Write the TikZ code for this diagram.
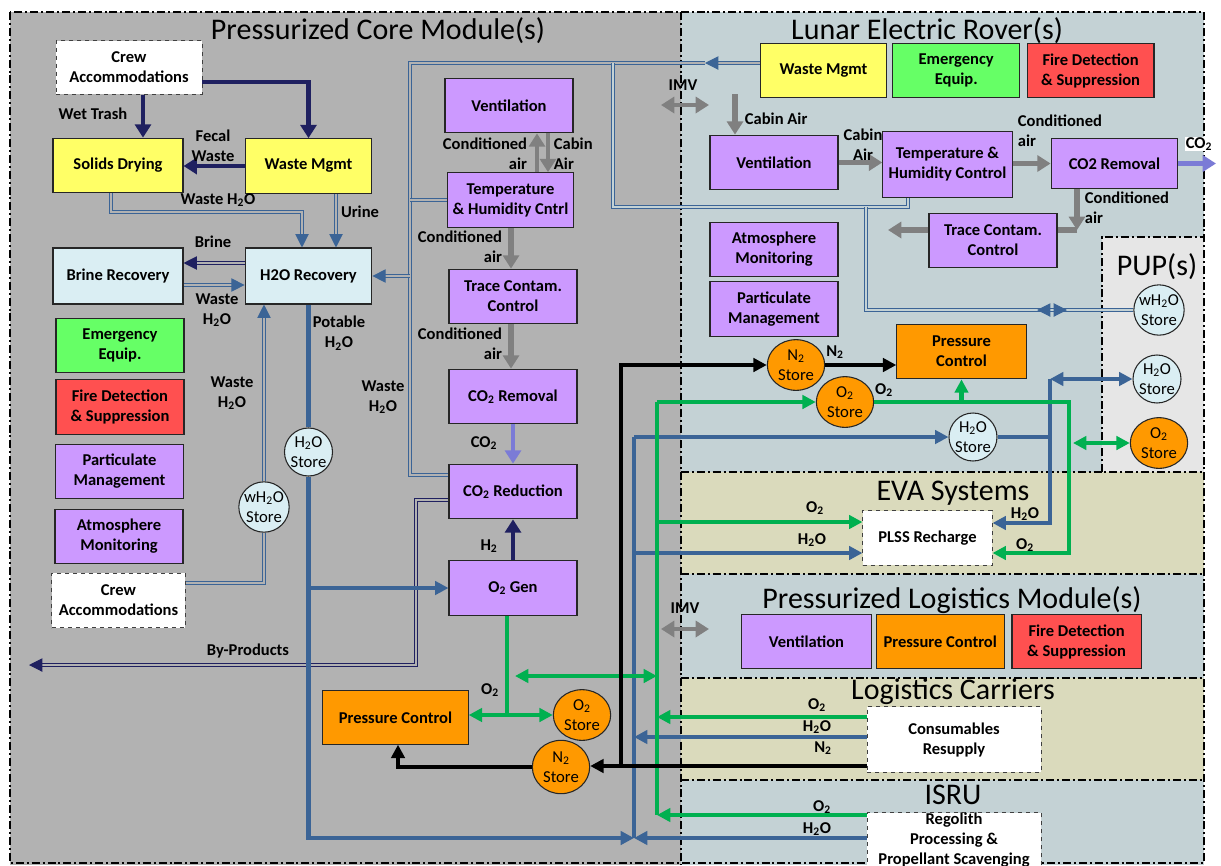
\documentclass[tikz,border=0pt]{standalone}
\usepackage{fontspec}
\setmainfont{Carlito}
\usetikzlibrary{arrows.meta,positioning,shapes.geometric}

\definecolor{coreGray}{RGB}{178,178,178}
\definecolor{roverBlue}{RGB}{196,210,213}
\definecolor{pupGray}{RGB}{230,230,230}
\definecolor{evaKhaki}{RGB}{218,218,188}
\definecolor{boxPurple}{RGB}{204,153,255}
\definecolor{boxYellow}{RGB}{255,255,102}
\definecolor{boxGreen}{RGB}{102,255,102}
\definecolor{boxRed}{RGB}{255,80,80}
\definecolor{boxOrange}{RGB}{255,153,0}
\definecolor{boxCyan}{RGB}{218,238,243}
\definecolor{waterBlue}{RGB}{59,100,150}
\definecolor{wasteNavy}{RGB}{31,32,96}
\definecolor{oxyGreen}{RGB}{0,176,80}
\definecolor{airGray}{RGB}{128,128,128}
\definecolor{cotwoBlue}{RGB}{123,123,214}

\newcommand{\HtwoO}{H\textsubscript{2}O}
\newcommand{\COtwo}{CO\textsubscript{2}}
\newcommand{\Otwo}{O\textsubscript{2}}
\newcommand{\Ntwo}{N\textsubscript{2}}
\newcommand{\Htwo}{H\textsubscript{2}}
\newcommand{\unitfont}{\fontsize{12.4}{15}\selectfont\bfseries}
\newcommand{\storefont}{\fontsize{12.5}{15}\selectfont}
\newcommand{\zonefont}{\fontsize{22.5}{26}\selectfont}

\tikzset{
    raw unit/.style={rectangle, draw=black!85, line width=0.8pt, font=\unitfont, align=center, inner sep=1pt, minimum width=96pt, minimum height=41pt},
    unit purple/.style={raw unit, fill=boxPurple},
    unit yellow/.style={raw unit, fill=boxYellow},
    unit green/.style={raw unit, fill=boxGreen},
    unit red/.style={raw unit, fill=boxRed},
    unit orange/.style={raw unit, fill=boxOrange},
    unit cyan/.style={raw unit, fill=boxCyan},
    unit ext/.style={raw unit, fill=white, draw=black!75, dashed, line width=0.6pt},
    store/.style={circle, draw=black!85, line width=0.8pt, fill=boxCyan, font=\storefont, align=center, inner sep=0pt, minimum size=36pt},
    store orange/.style={ellipse, draw=black!85, line width=0.8pt, fill=boxOrange, font=\storefont, align=center, inner sep=0pt, minimum width=43pt, minimum height=38pt},
    zone/.style={font=\zonefont, inner sep=0pt},
    zone edge/.style={draw=black, line width=1.3pt, dash pattern=on 6pt off 2.2pt on 1.5pt off 2.2pt},
    lbl/.style={font=\unitfont, inner sep=0.5pt, align=center}
}

\begin{document}
\begin{tikzpicture}[x=0.75pt, y=-0.75pt,
    >={Triangle[length=10pt,width=10pt]},
    waste flow/.style={draw=wasteNavy, line width=3.5pt, >={Triangle[length=10pt,width=12pt]}},
    water flow/.style={draw=waterBlue, line width=3.2pt},
    o2 flow/.style={draw=oxyGreen, line width=3.2pt},
    n2 flow/.style={draw=black, line width=2.8pt},
    co2 flow/.style={draw=cotwoBlue, line width=3.5pt, >={Triangle[length=10pt,width=12pt]}},
    air flow/.style={draw=airGray, line width=4pt, >={Triangle[length=10pt,width=12pt]}},
    water pipe/.style={draw=waterBlue, line width=0.8pt, double=coreGray, double distance=1.2pt},
    brine pipe/.style={water pipe, draw=wasteNavy}]

\useasboundingbox (0,0) rectangle (1221,865);
\fill[white] (0,0) rectangle (1221,865);

% zones
\fill[coreGray] (10,12) rectangle (681,865);
\fill[roverBlue] (681,12) rectangle (1204,472);
\fill[pupGray] (1102,237) rectangle (1204,472);
\fill[evaKhaki] (681,472) rectangle (1204,574);
\fill[roverBlue] (681,574) rectangle (1204,678);
\fill[evaKhaki] (681,678) rectangle (1204,780);
\fill[roverBlue] (681,780) rectangle (1204,865);
\draw[zone edge] (10,12) rectangle (1204,863);
\draw[zone edge] (681,12) -- (681,865);
\draw[zone edge] (1102,472) -- (1102,237) -- (1204,237);
\foreach \zy in {472,574,678,780}
    \draw[zone edge] (681,\zy) -- (1204,\zy);

\node[zone] (tCore) at (378,31) {Pressurized Core Module(s)};
\node[zone] (tRover) at (927,31) {Lunar Electric Rover(s)};
\node[zone] (tPup) at (1157,267) {PUP(s)};
\node[zone] (tEva) at (953,493) {EVA Systems};
\node[zone] (tPlm) at (952,600) {Pressurized Logistics Module(s)};
\node[zone] (tCarrier) at (953,692) {Logistics Carriers};
\node[zone] (tIsru) at (953,795) {ISRU};

% core module
\node[unit ext, minimum width=109.5pt, minimum height=40pt] (crewTop) at (129,67.5) {Crew\\Accommodations};
\node[unit yellow, minimum width=97.5pt] (solids) at (118,165.5) {Solids Drying};
\node[unit yellow, minimum width=95pt] (wasteCore) at (308.5,166) {Waste Mgmt};
\node[unit cyan, minimum width=97.5pt, minimum height=42pt] (brine) at (118,276) {Brine Recovery};
\node[unit cyan, minimum width=95pt, minimum height=42pt] (h2oRec) at (308.5,276) {H2O Recovery};
\node[unit green] (emerCore) at (120,345.5) {Emergency\\Equip.};
\node[unit red, below=4.5pt of emerCore] (fireCore) {Fire Detection\\\& Suppression};
\node[unit purple] (partCore) at (119.5,471.5) {Particulate\\Management};
\node[unit purple] (atmoCore) at (119,536.5) {Atmosphere\\Monitoring};
\node[unit ext, minimum width=100pt] (crewBot) at (118.5,600.5) {Crew\\Accommodations};
\node[store] (wstoreCore) at (264,507) {w\HtwoO\\Store};
\node[store] (hstoreCore) at (308.5,452) {\HtwoO\\Store};
\node[unit purple] (ventCore) at (509,105.5) {Ventilation};
\node[unit purple, minimum width=95pt] (thCore) at (510.5,200) {Temperature\\\& Humidity Cntrl};
\node[unit purple] (traceCore) at (513,296.5) {Trace Contam.\\Control};
\node[unit purple] (co2remCore) at (513,396.5) {\COtwo{} Removal};
\node[unit purple] (co2red) at (513,491.5) {\COtwo{} Reduction};
\node[unit purple] (o2gen) at (513,588) {\Otwo{} Gen};
\node[unit orange, minimum width=109pt, minimum height=40pt] (pcCore) at (395.5,717.5) {Pressure Control};
\node[store orange] (o2storeCore) at (582,715) {\Otwo\\Store};
\node[store orange, minimum height=40pt] (n2storeCore) at (561,767) {\Ntwo\\Store};

% rover, PUP and outside elements
\node[unit yellow, minimum width=95pt] (wasteRover) at (823.5,70.5) {Waste Mgmt};
\node[unit green, minimum width=95pt, right=3.75pt of wasteRover] (emerRover) {Emergency\\Equip.};
\node[unit red, minimum width=95pt, right=5pt of emerRover] (fireRover) {Fire Detection\\\& Suppression};
\node[unit purple] (ventRover) at (774,162.5) {Ventilation};
\node[unit purple, minimum width=97pt, minimum height=49pt] (thRover) at (947.5,164.5) {Temperature \&\\Humidity Control};
\node[unit purple, minimum width=95pt, minimum height=38pt] (co2remRover) at (1114.5,163.5) {CO2 Removal};
\node[unit purple] (traceRover) at (993,240.5) {Trace Contam.\\Control};
\node[unit purple] (atmoRover) at (774,249.5) {Atmosphere\\Monitoring};
\node[unit purple, below=3pt of atmoRover] (partRover) {Particulate\\Management};
\node[store orange] (n2storeRover) at (796,365) {\Ntwo\\Store};
\node[store orange] (o2storeRover) at (845,402) {\Otwo\\Store};
\node[unit orange, minimum width=97pt] (pcRover) at (961.5,351.5) {Pressure\\Control};
\node[store] (hstoreRover) at (973,437) {\HtwoO\\Store};
\node[store] (wstorePup) at (1159,310) {w\HtwoO\\Store};
\node[store] (hstorePup) at (1157,379) {\HtwoO\\Store};
\node[store orange] (o2storePup) at (1159,443) {\Otwo\\Store};
\node[unit ext, minimum width=97pt] (plss) at (927.5,538) {PLSS Recharge};
\node[unit purple, minimum width=97pt] (ventPlm) at (806.5,641.5) {Ventilation};
\node[unit orange, right=3pt of ventPlm] (pcPlm) {Pressure Control};
\node[unit red, minimum width=97pt, right=5pt of pcPlm] (firePlm) {Fire Detection\\\& Suppression};
\node[unit ext, minimum width=130.5pt, minimum height=49pt] (consum) at (954,739.5) {Consumables\\Resupply};
\node[unit ext, minimum width=130.5pt, inner sep=0pt] (regolith) at (954,840) {Regolith\\Processing \&\\Propellant Scavenging};

% run positions
\coordinate (wetX) at (143,0);
\coordinate (crewY) at (0,82);
\coordinate (sdX) at (111,0);
\coordinate (sdY) at (0,212);
\coordinate (sdX2) at (302,0);
\coordinate (urX) at (336,0);
\coordinate (brY) at (0,263);
\coordinate (bwY) at (0,285);
\coordinate (cwY) at (0,583);
\coordinate (topY) at (0,63);
\coordinate (wbX) at (410,0);
\coordinate (crY) at (0,475);
\coordinate (thX) at (613,0);
\coordinate (thY) at (0,207);
\coordinate (thRX) at (908,0);
\coordinate (pupX) at (866,0);
\coordinate (bpX) at (416,0);
\coordinate (bpY) at (0,500);
\coordinate (bpY2) at (0,665);
\coordinate (byOut) at (29,665);
\coordinate (lerTip) at (705,63);
\coordinate (pupMidL) at (1050,310);
\coordinate (pupMidR) at (1054,310);
\coordinate (caX1) at (537,0);
\coordinate (caX2) at (548,0);
\coordinate (caX3) at (511,0);
\coordinate (gX) at (507,0);
\coordinate (gLeft) at (515,676);
\coordinate (gBusX) at (657,0);
\coordinate (bX) at (634,0);
\coordinate (kX) at (621,0);
\coordinate (pcX) at (398,0);
\coordinate (botY) at (0,838);
\coordinate (regY) at (0,815);
\coordinate (plssOY) at (0,522);
\coordinate (plssHY) at (0,553);
\coordinate (consOY) at (0,717);
\coordinate (consHY) at (0,737);
\coordinate (consNY) at (0,766);
\coordinate (gX2) at (1069,0);
\coordinate (gPup) at (1073,443);
\coordinate (bX2) at (1050,0);
\coordinate (bPup) at (1050,379);
\coordinate (plssRY) at (0,523);
\coordinate (plssRY2) at (0,553);
\coordinate (cabinIn) at (735,94);
\coordinate (ctX) at (1077,0);
\coordinate (traceY) at (0,230);
\coordinate (traceOut) at (888,230);
\coordinate (co2Out) at (1216,163.5);
\coordinate (imvL) at (661,105);
\coordinate (imvR) at (709,105);
\coordinate (imvL2) at (661,629);
\coordinate (imvR2) at (709,629);

% solid waste and water recovery
\draw[waste flow, ->] (crewTop.south -| wetX) -- (solids.north -| wetX);
\draw[waste flow, ->] (crewTop.east |- crewY) -| (wasteCore.north);
\draw[waste flow, ->] (wasteCore.west) -- (solids.east |- wasteCore.west);
\draw[water pipe, ->] (solids.south -| sdX) |- (sdX2 |- sdY) -- (h2oRec.north -| sdX2);
\draw[water pipe, ->] (wasteCore.south -| urX) -- (h2oRec.north -| urX);
\draw[brine pipe, ->] (h2oRec.west |- brY) -- (brine.east |- brY);
\draw[water pipe, ->] (brine.east |- bwY) -- (h2oRec.west |- bwY);
\draw[water pipe, ->] (wstoreCore.north) -- (h2oRec.south -| wstoreCore.north);
\draw[water pipe] (crewBot.east |- cwY) -| (wstoreCore.south);
\draw[water pipe, ->] (wasteRover.west |- topY) -- (lerTip);
\draw[water pipe] (lerTip) -- (wbX |- topY) -- (wbX |- crY) -- (co2red.west |- crY);
\draw[water pipe, ->] (wbX |- h2oRec.east) -- (h2oRec.east);
\draw[water pipe] (thCore.west) -- (wbX |- thCore.west);
\draw[water pipe, double=roverBlue] (thX |- topY) -- (thX |- thY) -- (thRX |- thY) -- (thRover.south -| thRX);
\draw[water pipe, double=roverBlue] (pupX |- thY) -- (pupX |- wstorePup.west) -- (wstorePup.west);
\draw[water pipe, double=roverBlue, ->] (pupMidL) -- ++(-13,0);
\draw[water pipe, double=roverBlue, ->] (pupMidR) -- ++(13,0);
\draw[brine pipe, ->] (co2red.west |- bpY) -| (bpX |- bpY2) -- (byOut);

% air loop
\draw[air flow, line width=3pt, ->] (thCore.north -| caX1) -- (ventCore.south -| caX1);
\draw[air flow, line width=3pt, ->] (ventCore.south -| caX2) -- (thCore.north -| caX2);
\draw[air flow, ->] (thCore.south -| caX3) -- (traceCore.north -| caX3);
\draw[air flow, ->] (traceCore.south -| caX3) -- (co2remCore.north -| caX3);
\draw[co2 flow, ->] (co2remCore.south) -- (co2red.north);
\draw[waste flow, ->] (o2gen.north) -- (co2red.south);
\draw[air flow, ->] (cabinIn) -- (ventRover.north -| cabinIn);
\draw[air flow, ->] (ventRover.east) -- (thRover.west |- ventRover.east);
\draw[air flow, ->] (thRover.east |- co2remRover.west) -- (co2remRover.west);
\draw[air flow, ->] (co2remRover.south -| ctX) -- (ctX |- traceY);
\draw[air flow] (ctX |- traceY) -- (traceRover.east |- traceY);
\draw[air flow, ->] (traceRover.west |- traceY) -- (traceOut);
\draw[co2 flow, ->] (co2remRover.east) -- (co2Out);
\draw[air flow, line width=3pt, <->] (imvL) -- (imvR);
\draw[air flow, line width=3pt, <->] (imvL2) -- (imvR2);

% potable water
\draw[water flow] (h2oRec.south) -- (hstoreCore.north);
\draw[water flow, ->] (hstoreCore.south) |- (bX |- botY);
\draw[water flow, ->] (o2gen.west -| hstoreCore.south) -- (o2gen.west);
\draw[water flow] (bX |- hstoreRover.west) -- (bX |- botY);
\draw[water flow, ->] (bX |- hstoreRover.west) -- (hstoreRover.west);
\draw[water flow, ->] (bX |- plssHY) -- (plss.west |- plssHY);
\draw[water flow, ->] (consum.west |- consHY) -- (bX |- consHY);
\draw[water flow, ->] (regolith.west |- botY) -- (bX |- botY);
\draw[water flow] (hstoreRover.east) -- (bX2 |- hstoreRover.east);
\draw[water flow, ->] (bX2 |- hstorePup.west) |- (plss.east |- plssRY);
\draw[water flow, <->] (bPup) -- (hstorePup.west);

% oxygen
\draw[o2 flow] (o2gen.south -| gX) -- (gX |- o2storeCore.west);
\draw[o2 flow, ->] (gX |- o2storeCore.west) -- (o2storeCore.west);
\draw[o2 flow, ->] (gX |- o2storeCore.west) -- (pcCore.east |- o2storeCore.west);
\draw[o2 flow, <->] (gLeft) -- (gBusX |- gLeft);
\draw[o2 flow] (gBusX |- o2storeRover.west) -- (gBusX |- regY);
\draw[o2 flow, ->] (gBusX |- o2storeRover.west) -- (o2storeRover.west);
\draw[o2 flow, ->] (gBusX |- plssOY) -- (plss.west |- plssOY);
\draw[o2 flow, ->] (consum.west |- consOY) -- (gBusX |- consOY);
\draw[o2 flow, ->] (regolith.west |- regY) -- (gBusX |- regY);
\draw[o2 flow, ->] (o2storeRover.east) -| (gX2 |- plssRY2) -- (plss.east |- plssRY2);
\draw[o2 flow, ->] (pcRover.south |- o2storeRover.east) -- (pcRover.south);
\draw[o2 flow, <->] (gPup) -- (o2storePup.west);

% nitrogen
\draw[n2 flow, ->] (kX |- consNY) -- (kX |- n2storeRover.west) -- (n2storeRover.west);
\draw[n2 flow, ->] (consum.west |- consNY) -- (n2storeCore.east |- consNY);
\draw[n2 flow, ->] (n2storeCore.west) -| (pcCore.south -| pcX);
\draw[n2 flow, ->] (n2storeRover.east) -- (pcRover.west |- n2storeRover.east);

% labels
\node[lbl] (lWet) at (93,114) {Wet Trash};
\node[lbl] (lFecal) at (213,146) {Fecal\\Waste};
\node[lbl] (lSdWater) at (218,200) {Waste \HtwoO};
\node[lbl] (lUrine) at (360,212) {Urine};
\node[lbl] (lBrine) at (213,242) {Brine};
\node[lbl] (lBrWater) at (217,310) {Waste\\\HtwoO};
\node[lbl] (lStWater) at (232,393) {Waste\\\HtwoO};
\node[lbl] (lPotable) at (339,333) {Potable\\\HtwoO};
\node[lbl] (lBusWater) at (383,397) {Waste\\\HtwoO};
\node[lbl, align=right, anchor=east] (lCond1) at (528,154) {Conditioned\\air};
\node[lbl, align=left, anchor=west] (lCabin1) at (553,154) {Cabin\\Air};
\node[lbl, align=right, anchor=east] (lCond2) at (503,247) {Conditioned\\air};
\node[lbl, align=right, anchor=east] (lCond3) at (503,344) {Conditioned\\air};
\node[lbl] (lCO2) at (484,443) {\COtwo};
\node[lbl] (lH2) at (489,546) {\Htwo};
\node[lbl] (lByProd) at (248,651) {By-Products};
\node[lbl] (lO2core) at (490,690) {\Otwo};
\node[lbl] (lImv) at (683,85) {IMV};
\node[lbl] (lImv2) at (685,608) {IMV};
\node[lbl, anchor=west] (lCabin2) at (744,119) {Cabin Air};
\node[lbl] (lCabin3) at (863,145) {Cabin\\Air};
\node[lbl, align=left, anchor=west] (lCond4) at (1017,131) {Conditioned\\air};
\node[lbl, align=left, anchor=west] (lCond5) at (1084,208) {Conditioned\\air};
\node[lbl, fill=white] (lCO2out) at (1199,144) {\COtwo};
\node[lbl] (lN2rover) at (835,352) {\Ntwo};
\node[lbl] (lO2rover) at (884,390) {\Otwo};
\node[lbl] (lO2eva) at (815,508) {\Otwo};
\node[lbl] (lH2Oeva) at (812,540) {\HtwoO};
\node[lbl] (lH2Oeva2) at (1025,514) {\HtwoO};
\node[lbl] (lO2eva2) at (1025,545) {\Otwo};
\node[lbl] (lO2lc) at (817,705) {\Otwo};
\node[lbl] (lH2Olc) at (817,727) {\HtwoO};
\node[lbl] (lN2lc) at (823,748) {\Ntwo};
\node[lbl] (lO2isru) at (822,807) {\Otwo};
\node[lbl] (lH2Oisru) at (817,829) {\HtwoO};
\end{tikzpicture}
\end{document}
